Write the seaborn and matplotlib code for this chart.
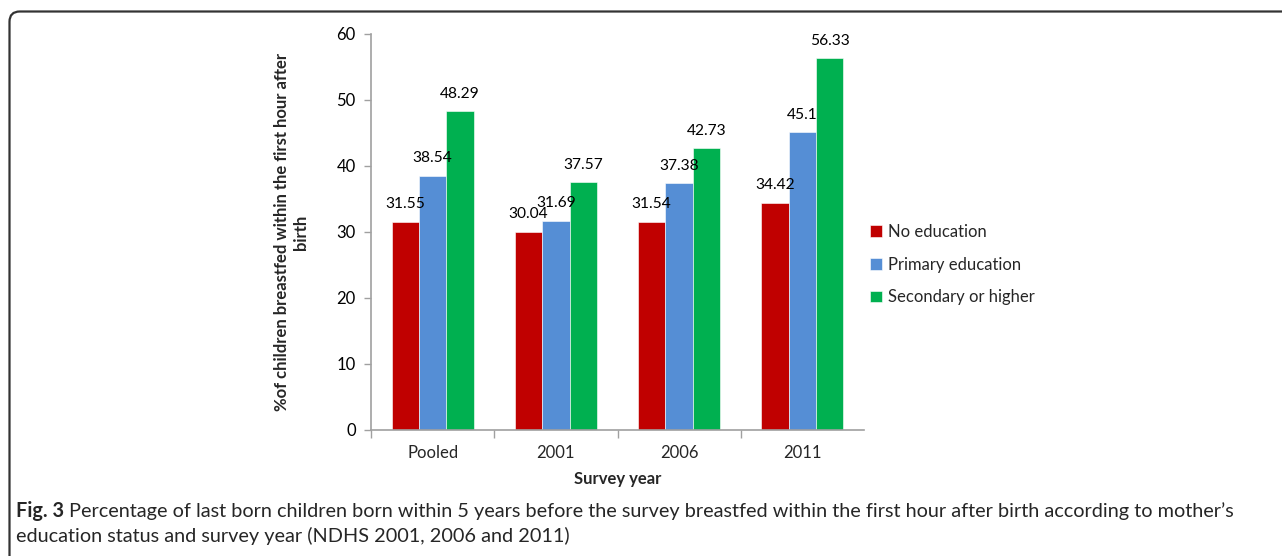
import matplotlib
matplotlib.use("Agg")
import matplotlib.pyplot as plt
import seaborn as sns
import pandas as pd
from matplotlib.patches import FancyBboxPatch

categories = ["Pooled", "2001", "2006", "2011"]
groups = ["No education", "Primary education", "Secondary or higher"]
no_education = [31.55, 30.04, 31.54, 34.42]
primary_education = [38.54, 31.69, 37.38, 45.1]
secondary_higher = [48.29, 37.57, 42.73, 56.33]
label_text = [["31.55", "30.04", "31.54", "34.42"],
              ["38.54", "31.69", "37.38", "45.1"],
              ["48.29", "37.57", "42.73", "56.33"]]
colors = ["#C00000", "#558ED5", "#00B050"]

rows = []
for g, vals in zip(groups, [no_education, primary_education, secondary_higher]):
    for c, v in zip(categories, vals):
        rows.append({"year": c, "group": g, "value": v})
df = pd.DataFrame(rows)

sns.set_theme(style="white")
plt.rcParams["font.family"] = ["Lato", "DejaVu Sans"]

W, H = 1282, 556
fs = 12
fig = plt.figure(figsize=(W / 100, H / 100), dpi=100)
ax = fig.add_axes([371 / W, 1 - 430 / H, (864 - 371) / W, (430 - 34) / H])

sns.barplot(data=df, x="year", y="value", hue="group", order=categories,
            hue_order=groups, palette=colors, width=0.667, gap=0,
            errorbar=None, ax=ax, saturation=1, edgecolor="white", linewidth=0.4)

ax.set_ylim(0, 60)
ax.set_xlim(-0.5, 3.5)
ax.set_yticks(range(0, 61, 10))
ax.tick_params(axis="y", labelsize=fs, colors="#a0a0a0", labelcolor="black",
               length=5, width=1, direction="out", left=True, pad=6)
ax.set_xticks(range(4))
ax.set_xticklabels(categories)
ax.tick_params(axis="x", which="major", length=0, labelsize=fs, pad=11)
ax.set_xticks([-0.5, 0.5, 1.5, 2.5], minor=True)
ax.tick_params(axis="x", which="minor", length=6, width=1, colors="#a0a0a0",
               direction="out", bottom=True)

for s in ["top", "right"]:
    ax.spines[s].set_visible(False)
for s in ["left", "bottom"]:
    ax.spines[s].set_color("#a0a0a0")
    ax.spines[s].set_linewidth(1.2)

# data labels
for gi, cont in enumerate(ax.containers):
    for bi, bar in enumerate(cont):
        x = bar.get_x() + bar.get_width() / 2
        h = bar.get_height()
        ax.annotate(label_text[gi][bi], (x, h), xytext=(0, 12.5),
                    textcoords="offset points", ha="center", va="center",
                    fontsize=11.2, color="black")

ax.set_xlabel("Survey year", fontsize=fs, fontweight="bold", labelpad=7)
ax.set_ylabel("%of children breastfed within the first hour after\nbirth",
              fontsize=fs, fontweight="bold", labelpad=20)

leg = ax.legend(loc="upper left", bbox_to_anchor=(870 / W, 1 - 224 / H),
                bbox_transform=fig.transFigure, frameon=False, fontsize=fs,
                handlelength=0.7, handleheight=0.7, handletextpad=0.4,
                labelspacing=1.0, borderpad=0, borderaxespad=0)

# frame
frame = FancyBboxPatch((9.5 / W, -0.2), 1.3, (1 - 11.5 / H) + 0.2,
                       boxstyle="round,pad=0,rounding_size=0.008",
                       transform=fig.transFigure, fill=False,
                       edgecolor="#333333", linewidth=1.6, clip_on=False,
                       mutation_aspect=W / H)
fig.patches.append(frame)

# caption
renderer = fig.canvas.get_renderer()
cap_size = 14.3
t1 = fig.text(16 / W, 1 - 511 / H, "Fig. 3", fontsize=cap_size, fontweight="bold",
              va="center", ha="left")
bb = t1.get_window_extent(renderer=renderer)
fig.text((bb.x1 + 5) / W, 1 - 511 / H,
         "Percentage of last born children born within 5 years before the survey breastfed within the first hour after birth according to mother\u2019s",
         fontsize=cap_size, va="center", ha="left")
fig.text(16 / W, 1 - 536 / H,
         "education status and survey year (NDHS 2001, 2006 and 2011)",
         fontsize=cap_size, va="center", ha="left")

fig.savefig("out.png", dpi=100)
